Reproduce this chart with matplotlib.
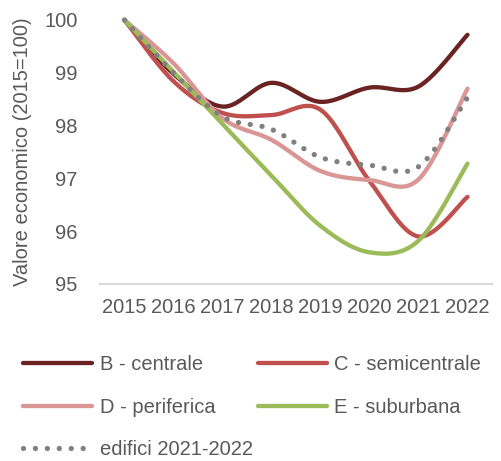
import matplotlib.pyplot as plt
import numpy as np

plt.rcParams['font.family'] = ['Liberation Sans', 'DejaVu Sans']

# ---  data  ---
anni = ['2015', '2016', '2017', '2018', '2019', '2020', '2021', '2022']
b_centrale = [100, 98.98, 98.36, 98.81, 98.45, 98.72, 98.74, 99.72]
c_semicentrale = [100, 98.84, 98.24, 98.20, 98.30, 96.95, 95.90, 96.65]
d_periferica = [100, 99.18, 98.14, 97.73, 97.14, 96.97, 96.98, 98.70]
e_suburbana = [100, 99.02, 98.03, 97.05, 96.10, 95.60, 95.82, 97.28]
edifici = [100, 99.00, 98.17, 97.93, 97.40, 97.25, 97.22, 98.53]

grigio = '#595959'
fs = 14.5


def smooth(y, n=40):
    """Bezier spline through the points (control points from neighbours)."""
    y = np.asarray(y, dtype=float)
    x = np.arange(len(y), dtype=float)
    xs, ys = [], []
    for i in range(len(y) - 1):
        i0 = max(i - 1, 0)
        i3 = min(i + 2, len(y) - 1)
        p0 = np.array([x[i], y[i]])
        p3 = np.array([x[i + 1], y[i + 1]])
        c1 = p0 + (np.array([x[i + 1], y[i + 1]]) - np.array([x[i0], y[i0]])) / 6
        c2 = p3 - (np.array([x[i3], y[i3]]) - np.array([x[i], y[i]])) / 6
        t = np.linspace(0, 1, n)[:, None]
        pts = ((1 - t) ** 3 * p0 + 3 * (1 - t) ** 2 * t * c1
               + 3 * (1 - t) * t ** 2 * c2 + t ** 3 * p3)
        xs.extend(pts[:, 0])
        ys.extend(pts[:, 1])
    return np.array(xs), np.array(ys)


fig = plt.figure(figsize=(5.02, 4.61), dpi=100)
ax = fig.add_axes([100 / 502, 177 / 461, 392 / 502, 264 / 461])

serie = [
    (b_centrale, '#6B2222', 'B - centrale'),
    (c_semicentrale, '#C0504D', 'C - semicentrale'),
    (d_periferica, '#D99694', 'D - periferica'),
    (e_suburbana, '#9BBB59', 'E - suburbana'),
]
h = {}
for vals, col, lab in serie:
    xs, ys = smooth(vals)
    h[lab], = ax.plot(xs, ys, color=col, lw=3.1, solid_capstyle='round', label=lab,
                      clip_on=False, zorder=3)

# dotted average line, round dots
xs, ys = smooth(edifici)
h['edifici'], = ax.plot(xs, ys, color='#808080', lw=3.8, linestyle=(0, (0.01, 2.25)),
                        dash_capstyle='round', label='edifici 2021-2022',
                        clip_on=False, zorder=4)

ax.set_xlim(-0.5, 7.5)
ax.set_ylim(95, 100)
ax.set_xticks(range(len(anni)))
ax.set_xticklabels(anni)
ax.set_yticks([95, 96, 97, 98, 99, 100])
ax.tick_params(length=0, labelsize=fs, labelcolor=grigio)
ax.tick_params(axis='x', pad=10)
ax.tick_params(axis='y', pad=16)
for s in ['top', 'right', 'left']:
    ax.spines[s].set_visible(False)
ax.spines['bottom'].set_color('#D9D9D9')
ax.spines['bottom'].set_linewidth(1.5)
ax.set_ylabel('Valore economico (2015=100)', fontsize=fs, color=grigio, labelpad=9)

# legend filled column by column: B, D, edifici | C, E
ordine = [h['B - centrale'], h['D - periferica'], h['edifici'],
          h['C - semicentrale'], h['E - suburbana']]
fig.legend(handles=ordine, loc='upper left', bbox_to_anchor=(23 / 502, 1 - 355 / 461),
           ncol=2, frameon=False, fontsize=fs, labelcolor=grigio,
           handlelength=3.45, handletextpad=0.35, columnspacing=0.25,
           labelspacing=1.17, borderpad=0, borderaxespad=0)

plt.savefig('out.png', dpi=100)
